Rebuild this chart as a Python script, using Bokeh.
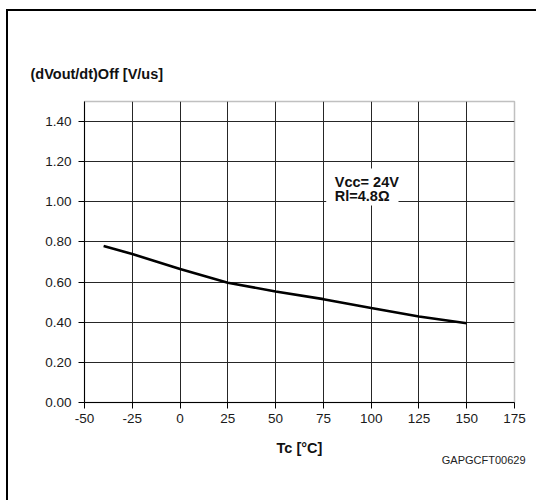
from bokeh.plotting import figure
from bokeh.layouts import column
from bokeh.models import Label, FixedTicker, BoxAnnotation, Range1d, CustomJSTickFormatter, Title
from bokeh.embed import file_html
from bokeh.resources import INLINE

# ---- data ----
tc = [-40, -25, 0, 25, 50, 75, 100, 125, 150]
dvdt_off = [0.78, 0.74, 0.665, 0.597, 0.553, 0.515, 0.471, 0.429, 0.395]
x_ticks = [-50, -25, 0, 25, 50, 75, 100, 125, 150, 175]
y_ticks = [0.0, 0.2, 0.4, 0.6, 0.8, 1.0, 1.2, 1.4]
y_title = "(dVout/dt)Off [V/us]"
x_title = "Tc [°C]"
cond_lines = ["Vcc= 24V", "Rl=4.8Ω"]
code_text = "GAPGCFT00629"

# ---- layout ----
OX, OY = 8, 11            # canvas origin on the page (after wrapper margin + border)
W, H = 528, 489
FL, FT, FW, FH = 76, 90, 430, 301
XMIN, XMAX, YMIN, YMAX = -50, 175, 0.0, 1.5
FONT = "Liberation Sans"

p = figure(width=W, height=H, output_backend="svg", toolbar_location=None,
           x_range=Range1d(XMIN, XMAX), y_range=Range1d(YMIN, YMAX),
           min_border_left=FL, min_border_right=W - FL - FW,
           min_border_top=FT, min_border_bottom=H - FT - FH,
           background_fill_color="white", border_fill_color="white",
           outline_line_color="#c0c0c0", outline_line_width=1.5)

def px_x(page_x):
    return XMIN + (page_x - OX - FL) / FW * (XMAX - XMIN)

def px_y(page_y):
    return YMAX - (page_y - OY - FT) / FH * (YMAX - YMIN)

# y-axis title shown at top-left, as in the reference
p.title.text = y_title
p.title.align = "left"
p.title.offset = -54
p.title.standoff = 39
p.title.text_font = FONT
p.title.text_font_size = "14.5px"
p.title.text_font_style = "bold"
p.title.text_color = "#111111"

for ax in (p.xaxis, p.yaxis):
    ax.axis_line_color = "black"
    ax.axis_line_width = 1
    ax.major_tick_line_color = "black"
    ax.major_tick_out = 6
    ax.major_tick_in = 0
    ax.minor_tick_line_color = None
    ax.major_label_text_font = FONT
    ax.major_label_text_font_size = "13.5px"
    ax.major_label_text_color = "#1a1a1a"

p.yaxis.major_label_standoff = 7
p.xaxis.major_label_standoff = 5
p.xaxis.ticker = FixedTicker(ticks=x_ticks)
p.yaxis.ticker = FixedTicker(ticks=y_ticks)
p.yaxis.formatter = CustomJSTickFormatter(code="return tick.toFixed(2);")
p.xaxis.formatter = CustomJSTickFormatter(code="return tick.toFixed(0);")

p.xaxis.axis_label = x_title
p.xaxis.axis_label_text_font = FONT
p.xaxis.axis_label_text_font_size = "14.5px"
p.xaxis.axis_label_text_font_style = "bold"
p.xaxis.axis_label_text_color = "#111111"
p.xaxis.axis_label_standoff = 14

p.xgrid.ticker = FixedTicker(ticks=x_ticks[1:-1])
p.ygrid.ticker = FixedTicker(ticks=y_ticks[1:])
for g in (p.xgrid, p.ygrid):
    g.grid_line_color = "#262626"
    g.grid_line_width = 1

p.line(tc, dvdt_off, line_color="black", line_width=2.6)

# condition box
p.add_layout(BoxAnnotation(left=px_x(325.7), right=px_x(398), top=px_y(168), bottom=px_y(205),
                           fill_color="white", fill_alpha=1.0, line_color=None, level="overlay"))
for i, t in enumerate(cond_lines):
    p.add_layout(Label(x=px_x(334.3), y=px_y(181.7 + 14 * i), text=t, text_font=FONT,
                       text_font_size="14.5px", text_font_style="bold", text_color="#111111",
                       text_baseline="alphabetic", text_align="left", level="overlay"))

# drawing code, below the axis title
p.add_layout(Title(text=code_text, align="right", offset=-11, standoff=-13,
                   text_font=FONT, text_font_size="11px", text_font_style="normal",
                   text_color="#222222"), "below")

root = column(p, styles={"margin-left": "6px", "margin-top": "9px",
                         "border-left": "2px solid black", "border-top": "2px solid black"})
open("out.html", "w").write(file_html(root, INLINE))
